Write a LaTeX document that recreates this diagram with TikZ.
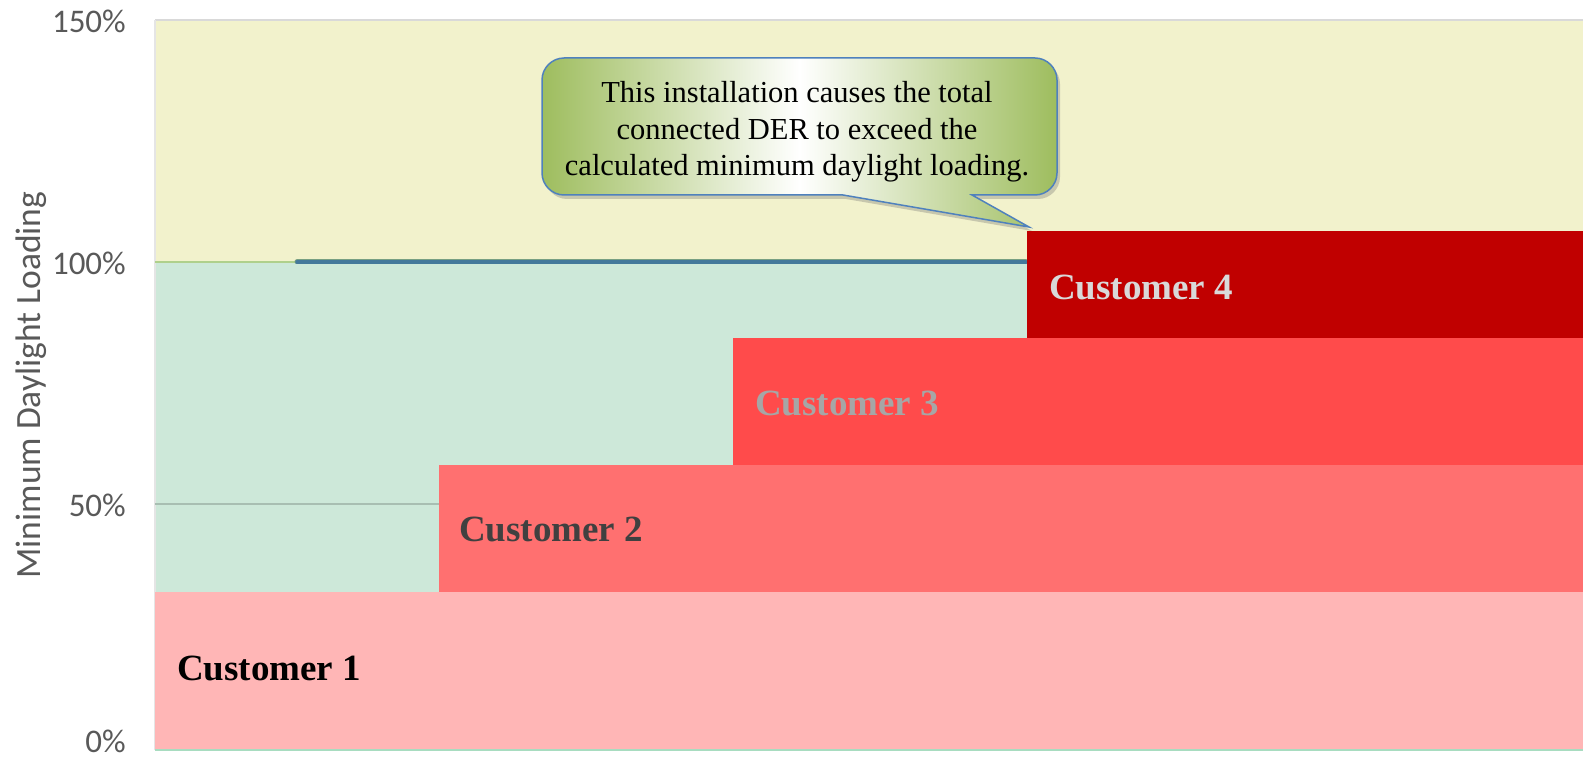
\documentclass[tikz,border=0pt]{standalone}
\usepackage{fontspec}
\setmainfont{Liberation Serif}
\newfontfamily\axisfont{Carlito}
\usetikzlibrary{shadows}
\definecolor{bandyellow}{HTML}{F2F2CC}
\definecolor{bandgreen}{HTML}{CDE8D9}
\definecolor{cust1}{HTML}{FFB6B6}
\definecolor{cust2}{HTML}{FF7070}
\definecolor{cust3}{HTML}{FF4B4B}
\definecolor{cust4}{HTML}{C00000}
\definecolor{axisgrey}{HTML}{595959}
\definecolor{teal}{HTML}{44799B}
\definecolor{calloutgreen}{HTML}{9EBD5E}
\definecolor{calloutblue}{HTML}{4F81BD}
\tikzset{
  ticklabel/.style={font=\axisfont\fontsize{33}{39}\selectfont, text=axisgrey, anchor=east, inner sep=0pt},
  custlabel/.style={font=\fontsize{37}{44}\selectfont\bfseries, anchor=base west, inner sep=0pt},
}
\begin{document}
\begin{tikzpicture}[x=1pt,y=-1pt]
\useasboundingbox (0,0) rectangle (1583,759);
% background bands
\fill[bandyellow] (155,20) rectangle (1583,262);
\fill[bandgreen] (155,262) rectangle (1583,750);
\draw[line width=1.5pt, black!15] (155,20) -- (1583,20);
\draw[line width=1.2pt, black!10] (155,20) -- (155,750);
% gridlines
\draw[line width=1.5pt, color=black!18!bandgreen] (155,504) -- (439,504);
\draw[line width=2pt, color={rgb,255:red,175;green,208;blue,140}] (155,262) -- (300,262);
\draw[line width=2pt, color={rgb,255:red,168;green,220;blue,192}] (155,750) -- (1583,750);
% minimum daylight loading line
\draw[line width=5pt, color={rgb,255:red,120;green,160;blue,130}, line cap=round] (297,262) -- (1026,262);
\draw[line width=3.5pt, teal, line cap=round] (297,262) -- (1026,262);
% customer blocks
\fill[cust1] (155,592) rectangle (1583,749);
\fill[cust2] (439,465) rectangle (1583,592);
\fill[cust3] (733,338) rectangle (1583,465);
\fill[cust4] (1027,231) rectangle (1583,338);
% customer labels
\node[custlabel, text=black] (c1) at (177,680) {Customer 1};
\node[custlabel, text={rgb,255:red,64;green,64;blue,64}] (c2) at (459,541) {Customer 2};
\node[custlabel, text={rgb,255:red,166;green,166;blue,166}] (c3) at (755,415) {Customer 3};
\node[custlabel, text={rgb,255:red,217;green,217;blue,217}] (c4) at (1049,300) {Customer 4};
% callout
\path[drop shadow={shadow xshift=3pt, shadow yshift=-4pt, opacity=0.3, fill=black!60}]
  (843,195) -- (1029,227) -- (972,195) -- (1035,195)
  .. controls (1047,195) and (1057,185) .. (1057,173)
  -- (1057,80)
  .. controls (1057,68) and (1047,58) .. (1035,58)
  -- (564,58)
  .. controls (552,58) and (542,68) .. (542,80)
  -- (542,173)
  .. controls (542,185) and (552,195) .. (564,195) -- cycle;
\draw[line width=1.5pt, draw=calloutblue, left color=calloutgreen, right color=calloutgreen, middle color=white]
  (843,195) -- (1029,227) -- (972,195) -- (1035,195)
  .. controls (1047,195) and (1057,185) .. (1057,173)
  -- (1057,80)
  .. controls (1057,68) and (1047,58) .. (1035,58)
  -- (564,58)
  .. controls (552,58) and (542,68) .. (542,80)
  -- (542,173)
  .. controls (542,185) and (552,195) .. (564,195) -- cycle;
\node[font=\fontsize{30.5}{36.5}\selectfont, align=center, inner sep=0pt] (callouttext) at (797,132)
  {This installation causes the total\\connected DER to exceed the\\calculated minimum daylight loading.};
% axis labels
\node[ticklabel] (t150) at (126,21) {150\%};
\node[ticklabel] (t100) at (126,263) {100\%};
\node[ticklabel] (t50) at (126,505) {50\%};
\node[ticklabel] (t0) at (126,741) {0\%};
\node[font=\axisfont\fontsize{35.5}{42}\selectfont, text=axisgrey, rotate=90, inner sep=0pt] (ytitle) at (31,385) {Minimum Daylight Loading};
\end{tikzpicture}
\end{document}
